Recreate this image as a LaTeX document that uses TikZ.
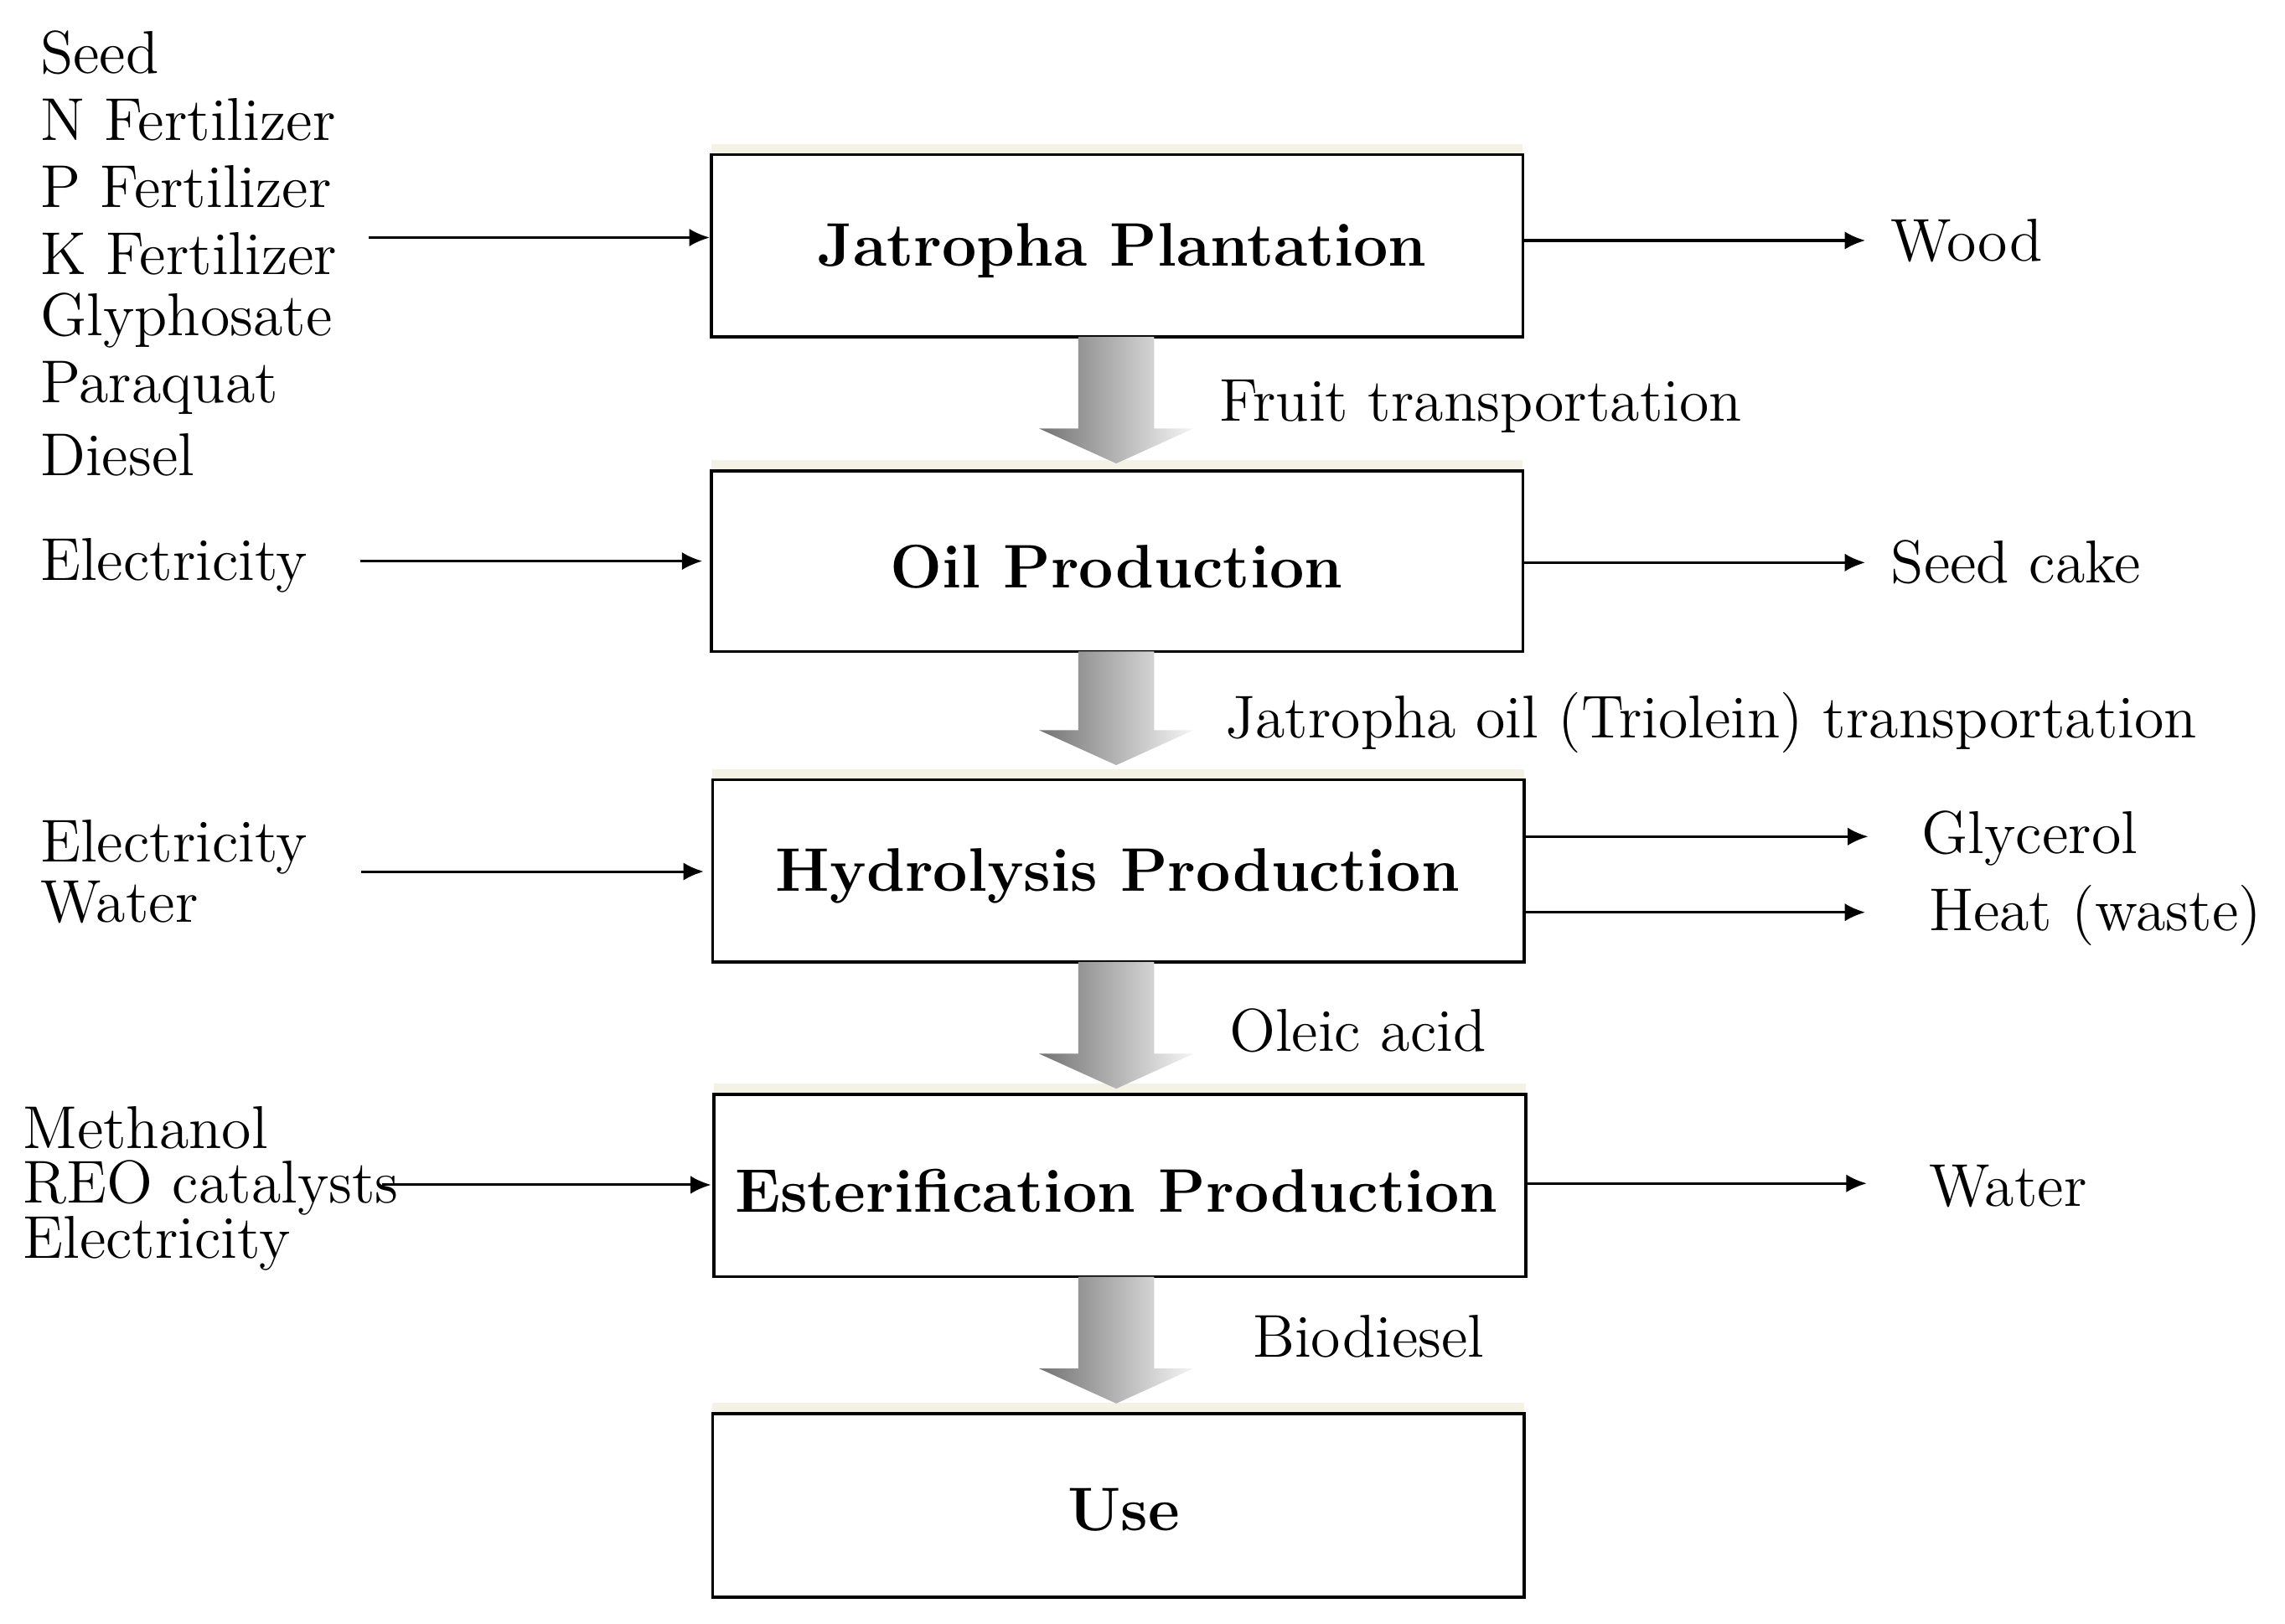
\documentclass[tikz,border=0pt]{standalone}
\usetikzlibrary{arrows.meta}
\begin{document}
\begin{tikzpicture}[x=0.01cm,y=-0.01cm,
  title/.style={font=\fontsize{12}{14}\selectfont\bfseries},
  txt/.style={font=\fontsize{11.8}{13}\selectfont,inner sep=0pt},
  arr/.style={-{Latex[length=4pt,width=3.5pt]},line width=0.5pt},
  fat/.style={left color=gray!90!black,right color=white!92!gray,draw=none}]
\useasboundingbox (0,0) rectangle (1568,1114);
\foreach \a/\b/\c/\d [count=\i] in {488/106/1045/231,488/323/1045/447,489/535/1046/660,490/751/1047/876,489/970/1046/1096}{
  \draw[draw=black!6!white!94!yellow,line width=2.5pt] (\a,\b-3) -- (\c,\b-3);
  \draw[line width=0.6pt,fill=white] (\a,\b) rectangle (\c,\d);}
\node[title] (n1) at (770,172) {Jatropha Plantation};
\node[title] (n2) at (766,389) {Oil Production};
\node[title] (n3) at (767,601) {Hydrolysis Production};
\node[title] (n4) at (766,817) {Esterification Production};
\node[title] (n5) at (771,1036) {Use};
\foreach \t/\b in {231/318,447/525,660/747,876/963}{
  \shade[fat] (740,\t) -- (792,\t) -- (792,\b-24) -- (819,\b-24) -- (766,\b) -- (713,\b-24) -- (740,\b-24) -- cycle;}
\node[txt,anchor=west] (s1) at (27,36) {Seed};
\node[txt,anchor=west] (s2) at (27,82) {N Fertilizer};
\node[txt,anchor=west] (s3) at (27,128) {P Fertilizer};
\node[txt,anchor=west] (s4) at (27,174) {K Fertilizer};
\node[txt,anchor=west] (s5) at (27,220) {Glyphosate};
\node[txt,anchor=west] (s6) at (27,266) {Paraquat};
\node[txt,anchor=west] (s7) at (27,312) {Diesel};
\coordinate (a1) at (253,163); \coordinate (a1e) at (487,163);
\draw[arr] (a1) -- (a1e);
\node[txt,anchor=west] (e1) at (27,388) {Electricity};
\coordinate (a2) at (247,385); \coordinate (a2e) at (482,385);
\draw[arr] (a2) -- (a2e);
\node[txt,anchor=west] (e2) at (27,581) {Electricity};
\node[txt,anchor=west] (w2) at (27,619) {Water};
\coordinate (a3) at (248,598); \coordinate (a3e) at (483,598);
\draw[arr] (a3) -- (a3e);
\node[txt,anchor=west] (m1) at (15,774) {Methanol};
\node[txt,anchor=west] (m2) at (15,815) {REO catalysts};
\node[txt,anchor=west] (m3) at (15,853) {Electricity};
\coordinate (a4) at (262,813); \coordinate (a4e) at (488,813);
\draw[arr] (a4) -- (a4e);
\node[txt,anchor=west] (o1) at (1297,165) {Wood};
\coordinate (r1) at (1045,165); \coordinate (r1e) at (1280,165);
\draw[arr] (r1) -- (r1e);
\node[txt,anchor=west] (o2) at (1297,386) {Seed cake};
\coordinate (r2) at (1045,386); \coordinate (r2e) at (1280,386);
\draw[arr] (r2) -- (r2e);
\node[txt,anchor=west] (o3) at (1318,575) {Glycerol};
\coordinate (r3) at (1046,574); \coordinate (r3e) at (1282,574);
\draw[arr] (r3) -- (r3e);
\node[txt,anchor=west] (o4) at (1323,628) {Heat (waste)};
\coordinate (r4) at (1046,626); \coordinate (r4e) at (1280,626);
\draw[arr] (r4) -- (r4e);
\node[txt,anchor=west] (o5) at (1323,814) {Water};
\coordinate (r5) at (1047,812); \coordinate (r5e) at (1281,812);
\draw[arr] (r5) -- (r5e);
\node[txt,anchor=west] (l1) at (836,279) {Fruit transportation};
\node[txt,anchor=west] (l2) at (840,496) {Jatropha oil (Triolein) transportation};
\node[txt,anchor=west] (l3) at (843,707) {Oleic acid};
\node[txt,anchor=west] (l4) at (859,917) {Biodiesel};
\end{tikzpicture}
\end{document}
